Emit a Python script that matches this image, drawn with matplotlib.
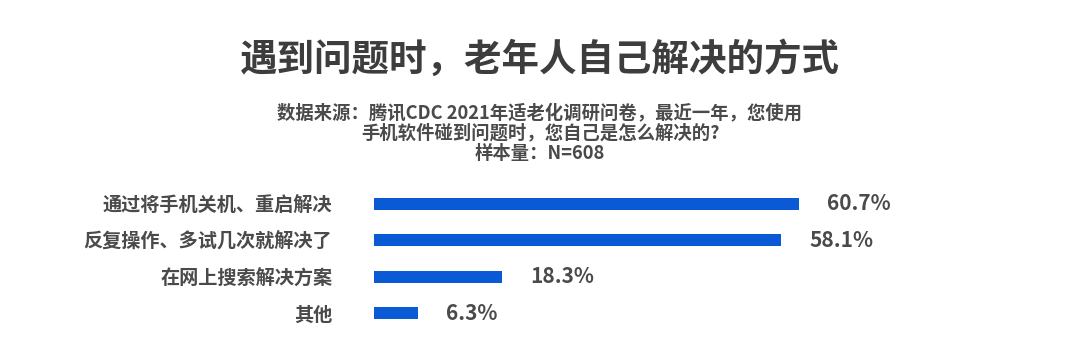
import matplotlib
matplotlib.use("Agg")
import matplotlib.pyplot as plt

plt.rcParams['font.family'] = ['Noto Sans CJK SC', 'DejaVu Sans']

# data
categories = ['通过将手机关机、重启解决', '反复操作、多试几次就解决了', '在网上搜索解决方案', '其他']
shares = [60.7, 58.1, 18.3, 6.3]
value_labels = ['60.7%', '58.1%', '18.3%', '6.3%']

title = '遇到问题时，老年人自己解决的方式'
subtitle = ('数据来源：腾讯CDC 2021年适老化调研问卷，最近一年，您使用\n'
            '手机软件碰到问题时，您自己是怎么解决的?\n'
            '样本量：N=608')

BAR_COLOR = '#0a5ad6'
TEXT_COLOR = '#4a4a4a'

fig = plt.figure(figsize=(10.8, 3.6), dpi=100)
fig.patch.set_facecolor('white')

fig.text(0.5, 0.836, title, ha='center', va='center', fontsize=27,
         fontweight='bold', color='#3d3d3d')
fig.text(0.5, 0.63, subtitle, ha='center', va='center', fontsize=13.2,
         fontweight='bold', color=TEXT_COLOR, linespacing=1.1)

ax = fig.add_axes([374 / 1080, 0.08, 0.56, 0.404])
ypos = list(range(len(categories)))
ax.barh(ypos, shares, height=0.33, color=BAR_COLOR)
ax.set_xlim(0, 86.3)
ax.set_ylim(len(categories) - 0.5, -0.5)

for y, v, lab in zip(ypos, shares, value_labels):
    ax.text(v + 4, y, lab, va='center', ha='left', fontsize=15,
            fontweight='bold', color=TEXT_COLOR)

ax.set_yticks(ypos)
ax.set_yticklabels(categories, fontsize=13.8, fontweight='bold', color=TEXT_COLOR)
ax.tick_params(axis='y', length=0, pad=30)
ax.set_xticks([])
for side in ax.spines.values():
    side.set_visible(False)

fig.savefig('out.png', dpi=100, facecolor='white')
plt.close(fig)
